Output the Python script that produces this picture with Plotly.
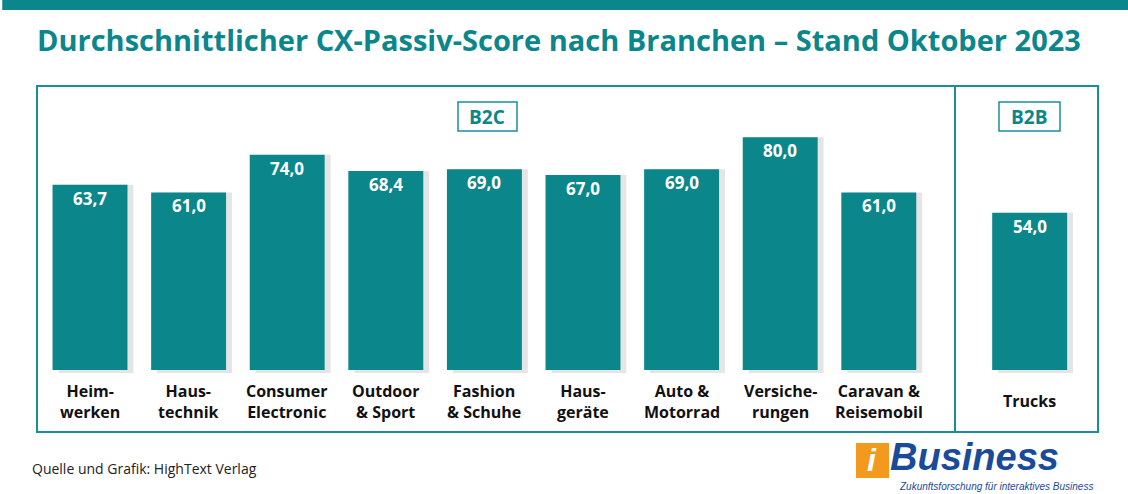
import plotly.graph_objects as go

categories = ["Heim-<br>werken", "Haus-<br>technik", "Consumer<br>Electronic", "Outdoor<br>& Sport",
              "Fashion<br>& Schuhe", "Haus-<br>geräte", "Auto &<br>Motorrad", "Versiche-<br>rungen",
              "Caravan &<br>Reisemobil", "Trucks"]
values = [63.7, 61.0, 74.0, 68.4, 69.0, 67.0, 69.0, 80.0, 61.0, 54.0]
value_labels = ["63,7", "61,0", "74,0", "68,4", "69,0", "67,0", "69,0", "80,0", "61,0", "54,0"]
positions = [0, 1, 2, 3, 4, 5, 6, 7, 8, 9.53]

W, H = 1128, 494
TEAL = "#0b868b"
LINE = "#1a9096"

def px(x):
    return (x - 90) / 98.6

def py(y):
    return (370 - y) / 2.91

fig = go.Figure()
fig.add_trace(go.Bar(x=[p + 0.06 for p in positions], y=[v + 1 for v in values], base=-1,
                     width=0.76, marker=dict(color="rgba(0,0,0,0.10)", line=dict(width=0)),
                     hoverinfo="skip"))
fig.add_trace(go.Bar(x=positions, y=values, width=0.76,
                     marker=dict(color=TEAL, line=dict(width=0)), hoverinfo="skip"))

ann = []
for p, v, lab, cat in zip(positions, values, value_labels, categories):
    ann.append(dict(x=p, y=v - 4.6, text="<b>" + lab + "</b>", showarrow=False, xref="x", yref="y",
                    xanchor="center", yanchor="middle",
                    font=dict(family="Open Sans", size=17, color="white")))
    ann.append(dict(x=p, y=py(401), text="<b>" + cat + "</b>", showarrow=False, xref="x", yref="y",
                    xanchor="center", yanchor="middle",
                    font=dict(family="Open Sans", size=16, color="#111")))

def paper_x(x): return x / W
def paper_y(y): return 1 - y / H

def pa(x, y, text, size, color, family="Open Sans", xa="center"):
    return dict(x=paper_x(x), y=paper_y(y), xref="paper", yref="paper", xanchor=xa, yanchor="middle",
                showarrow=False, text=text, font=dict(family=family, size=size, color=color))

ann += [
    pa(35, 40, "<b>Durchschnittlicher CX-Passiv-Score nach Branchen – Stand Oktober 2023</b>", 29, TEAL, xa="left"),
    pa(487, 117, "<b>B2C</b>", 19, TEAL),
    pa(1029, 117, "<b>B2B</b>", 19, TEAL),
    pa(30, 468, "Quelle und Grafik: HighText Verlag", 14, "#222", xa="left"),
    pa(872, 460, "<b><i>i</i></b>", 32, "white", family="Liberation Sans"),
    pa(888, 457, "<b><i>Business</i></b>", 38, "#1a4a9a", family="Liberation Sans", xa="left"),
    pa(897, 486, "<i>Zukunftsforschung für interaktives Business</i>", 10, "#1a4a9a", family="Liberation Sans", xa="left"),
]

shapes = [
    dict(type="rect", xref="paper", yref="paper", x0=0.002, x1=1, y0=paper_y(10), y1=1,
         fillcolor=TEAL, line=dict(width=0)),
    dict(type="rect", xref="paper", yref="paper", x0=paper_x(37), x1=paper_x(1098),
         y0=paper_y(432), y1=paper_y(86), line=dict(color=LINE, width=2), fillcolor="rgba(0,0,0,0)"),
    dict(type="line", xref="paper", yref="paper", x0=paper_x(955), x1=paper_x(955),
         y0=paper_y(432), y1=paper_y(86), line=dict(color=LINE, width=2)),
    dict(type="rect", xref="paper", yref="paper", x0=paper_x(458), x1=paper_x(517),
         y0=paper_y(131), y1=paper_y(102), line=dict(color=LINE, width=1.5)),
    dict(type="rect", xref="paper", yref="paper", x0=paper_x(999), x1=paper_x(1060),
         y0=paper_y(131), y1=paper_y(102), line=dict(color=LINE, width=1.5)),
    dict(type="rect", xref="paper", yref="paper", x0=paper_x(856), x1=paper_x(889),
         y0=paper_y(478), y1=paper_y(443), fillcolor="#f39a1e", line=dict(width=0)),
]

fig.update_layout(
    width=W, height=H, margin=dict(l=0, r=0, t=0, b=0),
    paper_bgcolor="white", plot_bgcolor="white", showlegend=False, barmode="overlay",
    xaxis=dict(range=[px(0), px(W)], visible=False, fixedrange=True),
    yaxis=dict(range=[py(H), py(0)], visible=False, fixedrange=True),
    annotations=ann, shapes=shapes,
)
fig.write_html("out.html", config={"displayModeBar": False},
               post_script="document.body.style.margin='0';")
